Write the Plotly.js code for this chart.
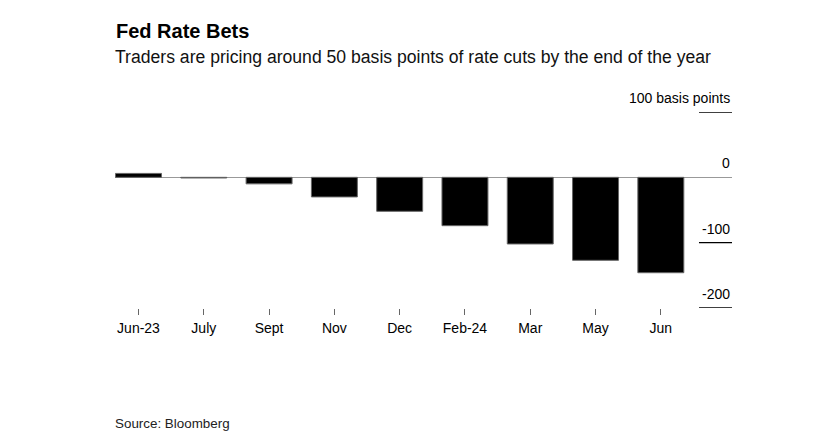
<!DOCTYPE html>
<html>
<head>
<meta charset="utf-8">
<script src="https://cdn.plot.ly/plotly-3.0.1.min.js"></script>
<style>html,body{margin:0;padding:0;background:#fff;}#chart{width:827px;height:447px;}</style>
</head>
<body>
<div id="chart"></div>
<script>
const categories = ["Jun-23", "July", "Sept", "Nov", "Dec", "Feb-24", "Mar", "May", "Jun"];
const rateBets = [6, -1, -10, -30, -52, -74, -102, -127, -146];
const yTickVals = [100, 0, -100, -200];
const yTickText = ["100 basis points", "0", "-100", "-200"];
const titleText = "Fed Rate Bets";
const subtitleText = "Traders are pricing around 50 basis points of rate cuts by the end of the year";
const sourceText = "Source: Bloomberg";

const FONT = "Liberation Sans, Arial, Helvetica, sans-serif";
const plotTop = 112.3, plotBottom = 308, plotH = plotBottom - plotTop;
const py = (pix) => (plotBottom - pix) / plotH;

const shapes = yTickVals.filter(v => v !== 0).map(v => ({
  type: 'line', xref: 'paper', yref: 'y', x0: 0.9465, x1: 1, y0: v, y1: v,
  line: {color: '#000', width: 1.3}, layer: 'above'
}));

const annotations = yTickVals.map((v, i) => ({
  xref: 'paper', yref: 'y', x: 1, y: v, xanchor: 'right', yanchor: 'bottom',
  yshift: 4, text: yTickText[i], showarrow: false,
  font: {family: FONT, size: 14, color: '#000'}
}));
annotations.push(
  {xref: 'paper', yref: 'paper', x: -0.002, y: py(31.5), xanchor: 'left', yanchor: 'middle',
   text: '<b>' + titleText + '</b>', showarrow: false, font: {family: FONT, size: 20, color: '#000'}},
  {xref: 'paper', yref: 'paper', x: -0.004, y: py(57), xanchor: 'left', yanchor: 'middle',
   text: subtitleText, showarrow: false, font: {family: FONT, size: 17.6, color: '#111'}},
  {xref: 'paper', yref: 'paper', x: -0.004, y: py(423), xanchor: 'left', yanchor: 'middle',
   text: sourceText, showarrow: false, font: {family: FONT, size: 13.4, color: '#222'}}
);

const data = [{
  type: 'bar', x: categories, y: rateBets,
  marker: {color: '#000', line: {color: '#666', width: 1}},
  width: 0.704, hoverinfo: 'skip'
}];

const layout = {
  width: 827, height: 447,
  margin: {l: 115, r: 95.3, t: plotTop, b: 447 - plotBottom, pad: 0},
  paper_bgcolor: '#fff', plot_bgcolor: '#fff',
  showlegend: false,
  bargap: 0.3,
  xaxis: {
    type: 'category', range: [-0.36, 9.09], showgrid: false, zeroline: false,
    showline: false, ticks: 'outside', ticklen: 6, tickwidth: 1, tickcolor: '#666',
    tickfont: {family: FONT, size: 14, color: '#000'}, ticklabelstandoff: 1,
    fixedrange: true
  },
  yaxis: {
    range: [-200, 100], showgrid: false, showticklabels: false, ticks: '',
    zeroline: true, zerolinecolor: '#999', zerolinewidth: 1.5, showline: false,
    fixedrange: true
  },
  shapes: shapes,
  annotations: annotations
};

Plotly.newPlot('chart', data, layout, {displayModeBar: false, staticPlot: true});
</script>
</body>
</html>
